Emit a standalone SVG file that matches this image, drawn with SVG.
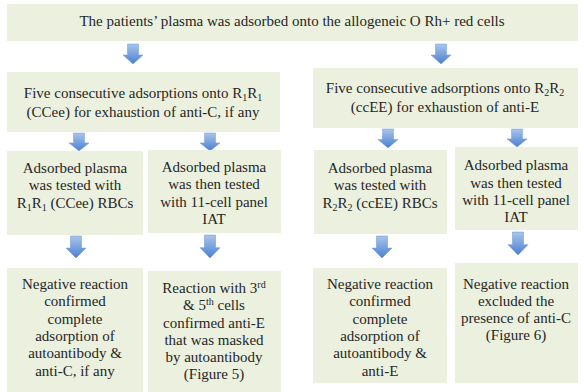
<svg xmlns="http://www.w3.org/2000/svg" xmlns:xlink="http://www.w3.org/1999/xlink" width="584" height="392" viewBox="0 0 584 392">
<defs>
<linearGradient id="ag" x1="0" y1="0" x2="0" y2="1">
<stop offset="0" stop-color="#a9c5ec"/>
<stop offset="1" stop-color="#4a7fd0"/>
</linearGradient>
<path id="arr" d="M-5.5,0 H5.5 V11 H10 L0,20 L-10,11 H-5.5 Z" fill="url(#ag)" stroke="#6f98d6" stroke-width="0.5"/>
</defs>
<style>
.box{fill:#ebf1de;}
text{font-family:"Liberation Serif","Times New Roman",serif;font-size:15px;fill:#262626;text-anchor:middle;}
.s{font-size:10px;}
</style>
<rect width="584" height="392" fill="#ffffff"/>
<g id="connectors">
<use xlink:href="#arr" transform="translate(133,44)"/>
<use xlink:href="#arr" transform="translate(441,44)"/>
<use xlink:href="#arr" transform="translate(79,133) scale(1,0.9)"/>
<use xlink:href="#arr" transform="translate(210,133) scale(1,0.9)"/>
<use xlink:href="#arr" transform="translate(388,129) scale(1,0.95)"/>
<use xlink:href="#arr" transform="translate(517,129) scale(1,0.9)"/>
<use xlink:href="#arr" transform="translate(76,236) scale(1,1.1)"/>
<use xlink:href="#arr" transform="translate(210,235) scale(1,1.15)"/>
<use xlink:href="#arr" transform="translate(382,236) scale(1,1.1)"/>
<use xlink:href="#arr" transform="translate(518,232) scale(1,1.15)"/>
</g>
<g id="top">
<rect class="box" x="7" y="4" width="571" height="37"/>
<text x="292" y="26">The patients’ plasma was adsorbed onto the allogeneic O Rh+ red cells</text>
</g>
<g id="l2a">
<rect class="box" x="7" y="72" width="273" height="60"/>
<text x="143" y="98">Five consecutive adsorptions onto R<tspan class="s" dy="3">1</tspan><tspan dy="-3">R</tspan><tspan class="s" dy="3">1</tspan></text>
<text x="143" y="117">(CCee) for exhaustion of anti-C, if any</text>
</g>
<g id="l2b">
<rect class="box" x="313" y="68" width="265" height="60"/>
<text x="445" y="93">Five consecutive adsorptions onto R<tspan class="s" dy="3">2</tspan><tspan dy="-3">R</tspan><tspan class="s" dy="3">2</tspan></text>
<text x="445" y="112">(ccEE) for exhaustion of anti-E</text>
</g>
<g id="l3a">
<rect class="box" x="7" y="151" width="136" height="84"/>
<text x="75" y="173">Adsorbed plasma</text>
<text x="75" y="190">was tested with</text>
<text x="75" y="208">R<tspan class="s" dy="3">1</tspan><tspan dy="-3">R</tspan><tspan class="s" dy="3">1</tspan><tspan dy="-3"> (CCee) RBCs</tspan></text>
</g>
<g id="l3b">
<rect class="box" x="148" y="150" width="133" height="83"/>
<text x="214" y="172">Adsorbed plasma</text>
<text x="214" y="189">was then tested</text>
<text x="214" y="207">with 11-cell panel</text>
<text x="214" y="224">IAT</text>
</g>
<g id="l3c">
<rect class="box" x="314" y="150" width="133" height="84"/>
<text x="380" y="173">Adsorbed plasma</text>
<text x="380" y="190">was tested with</text>
<text x="380" y="208">R<tspan class="s" dy="3">2</tspan><tspan dy="-3">R</tspan><tspan class="s" dy="3">2</tspan><tspan dy="-3"> (ccEE) RBCs</tspan></text>
</g>
<g id="l3d">
<rect class="box" x="455" y="147" width="123" height="83"/>
<text x="516" y="170">Adsorbed plasma</text>
<text x="516" y="188">was then tested</text>
<text x="516" y="205">with 11-cell panel</text>
<text x="516" y="222">IAT</text>
</g>
<g id="l4a">
<rect class="box" x="7" y="268" width="136" height="124"/>
<text x="75" y="289">Negative reaction</text>
<text x="75" y="306">confirmed</text>
<text x="75" y="324">complete</text>
<text x="75" y="341">adsorption of</text>
<text x="75" y="358">autoantibody &amp;</text>
<text x="75" y="376">anti-C, if any</text>
</g>
<g id="l4b">
<rect class="box" x="148" y="271" width="133" height="121"/>
<text x="214" y="293">Reaction with 3<tspan class="s" dy="-5">rd</tspan></text>
<text x="214" y="310">&amp; 5<tspan class="s" dy="-5">th</tspan><tspan dy="5"> cells</tspan></text>
<text x="214" y="328">confirmed anti-E</text>
<text x="214" y="345">that was masked</text>
<text x="214" y="362">by autoantibody</text>
<text x="214" y="379">(Figure 5)</text>
</g>
<g id="l4c">
<rect class="box" x="313" y="268" width="134" height="115"/>
<text x="380" y="289">Negative reaction</text>
<text x="380" y="306">confirmed</text>
<text x="380" y="324">complete</text>
<text x="380" y="341">adsorption of</text>
<text x="380" y="358">autoantibody &amp;</text>
<text x="380" y="376">anti-E</text>
</g>
<g id="l4d">
<rect class="box" x="455" y="263" width="123" height="120"/>
<text x="516" y="289">Negative reaction</text>
<text x="516" y="306">excluded the</text>
<text x="516" y="323">presence of anti-C</text>
<text x="516" y="340">(Figure 6)</text>
</g>
</svg>
